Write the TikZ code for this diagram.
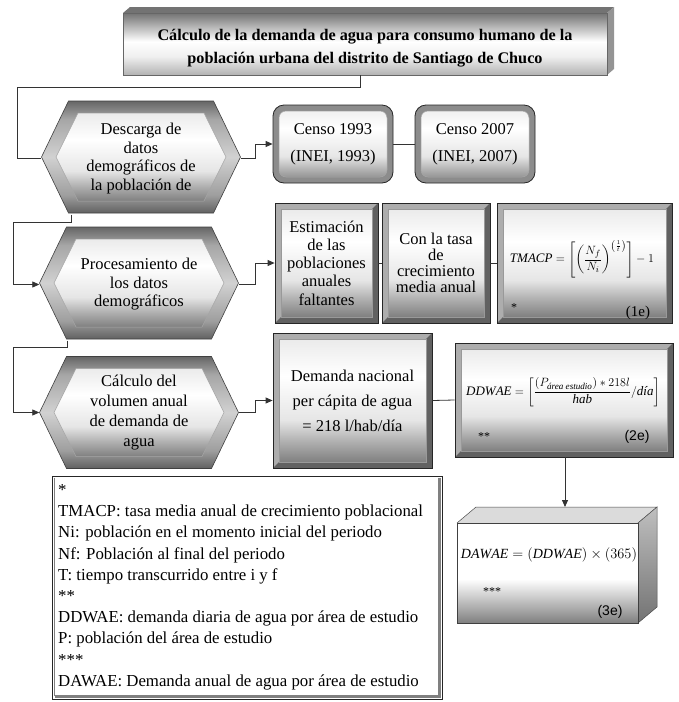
\documentclass[tikz,border=0pt]{standalone}
\usepackage{amsmath}
\usepackage{fontspec}
\setmainfont{Liberation Serif}
\newfontfamily\numsans{Liberation Sans}
\usetikzlibrary{arrows.meta,calc}

\pgfdeclareverticalshading{facesh}{100bp}{color(0bp)=(black!50); color(25bp)=(black!50); color(33bp)=(black!32); color(42bp)=(black!10); color(60bp)=(white); color(75bp)=(black!8); color(100bp)=(black!8)}
\pgfdeclareverticalshading{hexout}{100bp}{color(0bp)=(black!62); color(25bp)=(black!62); color(33bp)=(black!38); color(50bp)=(black!18); color(67bp)=(black!35); color(75bp)=(black!60); color(100bp)=(black!60)}
\pgfdeclareverticalshading{titlesh}{100bp}{color(0bp)=(black!30); color(25bp)=(black!30); color(40bp)=(black!6); color(52bp)=(white); color(75bp)=(black!55); color(100bp)=(black!55)}
\pgfdeclareverticalshading{cubesh}{100bp}{color(0bp)=(black!50); color(25bp)=(black!50); color(38bp)=(black!20); color(47bp)=(white); color(75bp)=(white); color(100bp)=(white)}

\newcommand\myfont{\fontsize{16.5}{18.5}\selectfont}
\newcommand\hexshape[2]{%
  \begin{scope}[shift={(#1,#2)}]
    \shade[shading=hexout, draw=black!75, line width=0.6pt]
      (-99.5,0) -- (-72.5,-56) -- (72.5,-56) -- (99.5,0) -- (72.5,56) -- (-72.5,56) -- cycle;
    \shade[shading=facesh, draw=black!35, line width=0.5pt]
      (-85,0) -- (-63,-44) -- (63,-44) -- (85,0) -- (63,44) -- (-63,44) -- cycle;
  \end{scope}}

\tikzset{
  hexnode/.style={minimum width=199pt, minimum height=112pt, inner sep=0pt, align=center, font=\myfont},
  framebox/.style={draw=black!85, line width=0.8pt, fill=black!32, inner sep=0pt, align=center, font=\myfont,
    path picture={
      \fill[black!62] (path picture bounding box.north east) -- (path picture bounding box.south east)
        -- (path picture bounding box.south west) -- ([shift={(6pt,6pt)}]path picture bounding box.south west)
        -- ([shift={(-6pt,6pt)}]path picture bounding box.south east) -- ([shift={(-6pt,-6pt)}]path picture bounding box.north east) -- cycle;
      \shade[shading=facesh, draw=black!40, line width=0.5pt]
        ([shift={(6pt,-6pt)}]path picture bounding box.north west) rectangle ([shift={(-6pt,6pt)}]path picture bounding box.south east);
    }},
  roundbox/.style={draw=black!85, line width=0.8pt, fill=black!45, rounded corners=11pt, inner sep=0pt, align=center,
    font=\fontsize{16.5}{27}\selectfont,
    path picture={
      \shade[shading=facesh, draw=black!35, line width=0.5pt, rounded corners=7pt]
        ([shift={(6pt,-6pt)}]path picture bounding box.north west) rectangle ([shift={(-6pt,6pt)}]path picture bounding box.south east);
    }},
  conn/.style={line width=0.8pt, black!80},
  arr/.style={conn, -{Triangle[length=7pt,width=6pt]}},
  smalltxt/.style={inner sep=0pt, font=\fontsize{12}{14}\selectfont},
  eqnum/.style={inner sep=0pt, font=\fontsize{15}{17}\selectfont},
  formula/.style={inner sep=0pt, font=\fontsize{13}{15}\selectfont},
  legtext/.style={inner sep=0pt, anchor=base west, font=\fontsize{16.8}{20}\selectfont}
}

\begin{document}
\begin{tikzpicture}[x=1pt,y=-1pt]
\useasboundingbox (0,0) rectangle (679,702);
\fill[white] (0,0) rectangle (679,702);

% ---- title (3D block)
\fill[black!55] (123,13) -- (130,7) -- (614,7) -- (607,13) -- cycle;
\fill[black!42] (607,13) -- (614,7) -- (614,69) -- (607,75) -- cycle;
\node[minimum width=484pt, minimum height=62pt, inner sep=0pt, shade, shading=titlesh, draw=black!60, line width=0.5pt] (title) at (365,44) {};
\node[inner sep=0pt, align=center, font=\fontsize{16.2}{23}\selectfont\bfseries] (titlet) at (365,48.5)
  {Cálculo de la demanda de agua para consumo humano de la\\población urbana del distrito de Santiago de Chuco};

% ---- hexagons
\hexshape{141}{157}
\hexshape{139}{283}
\hexshape{139}{412.5}
\node[hexnode] (h1) at (141,158.5) {Descarga de\\datos\\demográficos de\\la población de};
\node[hexnode] (h2) at (139,284.5) {Procesamiento de\\los datos\\demográficos};
\node[hexnode, font=\fontsize{16.5}{20}\selectfont] (h3) at (139,412.5) {Cálculo del\\volumen anual\\de demanda de\\agua};

% ---- row 1
\node[roundbox, minimum width=120pt, minimum height=78pt] (censoA) at (333,144) {Censo 1993\\(INEI, 1993)};
\node[roundbox, minimum width=120pt, minimum height=78pt] (censoB) at (475,144) {Censo 2007\\(INEI, 2007)};

% ---- row 2
\node[framebox, minimum width=103pt, minimum height=120pt, font=\fontsize{16.5}{18.3}\selectfont] (est) at (326.5,263) {Estimación\\de las\\poblaciones\\anuales\\faltantes};
\node[framebox, minimum width=108pt, minimum height=120pt, font=\fontsize{16.5}{16}\selectfont] (tasa) at (436,263) {Con la tasa\\de\\crecimiento\\media anual};
\node[framebox, minimum width=175pt, minimum height=120pt] (tmacp) at (584.5,263) {};
\node[formula] (f1) at (582,259) {$\mathit{TMACP}=\left[\left(\dfrac{N_f}{N_i}\right)^{\left(\frac{1}{t}\right)}\right]-1$};
\node[smalltxt] (s1) at (514,308) {*};
\node[eqnum] (n1) at (638,313) {(1e)};

% ---- row 3
\node[framebox, minimum width=159pt, minimum height=135pt, font=\fontsize{16.5}{25}\selectfont] (dem) at (352.5,400.5) {Demanda nacional\\per cápita de agua\\= 218 l/hab/día};
\node[framebox, minimum width=218pt, minimum height=114pt] (ddwae) at (564,400) {};
\node[formula] (f2) at (563,392) {$\mathit{DDWAE}=\left[\dfrac{(P_{\text{\itshape área estudio}})\ast 218l}{\mathit{hab}}/\text{\itshape día}\right]$};
\node[smalltxt] (s2) at (484,437) {**};
\node[eqnum, font=\fontsize{14}{16}\selectfont\numsans] (n2) at (637,437) {(2e)};

% ---- 3D block DAWAE
\fill[black!14] (457,523) -- (476,507) -- (657,507) -- (638,523) -- cycle;
\draw[black!70, line width=0.5pt] (457,523) -- (476,507) -- (657,507) -- (638,523);
\shade[top color=black!25, bottom color=black!55, draw=black!70, line width=0.5pt] (638,523) -- (657,507) -- (657,607) -- (638,623) -- cycle;
\node[minimum width=181pt, minimum height=100pt, inner sep=0pt, shade, shading=cubesh, draw=black!75, line width=0.6pt] (dawae) at (547.5,573) {};
\node[formula, font=\fontsize{14}{16}\selectfont] (f3) at (549,555) {$\mathit{DAWAE}=(\mathit{DDWAE})\times(365)$};
\node[smalltxt] (s3) at (492,592) {***};
\node[eqnum, font=\fontsize{14}{16}\selectfont\numsans] (n3) at (610,612) {(3e)};

% ---- legend
\node[draw=black!85, line width=0.6pt, fill=white, minimum width=390pt, minimum height=223pt, inner sep=0pt] (leg) at (247,587.5) {};
\draw[black!50, line width=2.5pt] ([shift={(-3pt,-2pt)}]leg.north east) -- ([shift={(-3pt,3pt)}]leg.south east) -- ([shift={(3pt,3pt)}]leg.south west);
\draw[black!50, line width=1pt] ([shift={(3pt,-2pt)}]leg.north west) -- ([shift={(3pt,3pt)}]leg.south west);
\foreach \t [count=\i] in {*,
  TMACP: tasa media anual de crecimiento poblacional,
  Ni: población en el momento inicial del periodo,
  Nf: Población al final del periodo,
  T: tiempo transcurrido entre i y f,
  **,
  DDWAE: demanda diaria de agua por área de estudio,
  P: población del área de estudio,
  ***,
  DAWAE: Demanda anual de agua por área de estudio}
  \node[legtext] (lg\i) at (58,{474.3+21.2*\i}) {\t};

% ---- connectors
\coordinate (t1) at (17,87);
\coordinate (l1) at (13,222);
\coordinate (l2) at (13,347);
\coordinate (e1) at (255,0);
\draw[conn] ($(title.south)+(-5pt,0)$) |- (t1) |- (h1.west);
\draw[arr] ($(h1.south west)+(30pt,0)$) |- (l1) |- (h2.west);
\draw[arr] ($(h2.south west)+(28pt,0)$) |- (l2) |- (h3.west);
\draw[arr] (h1.east) -- (h1.east -| e1) |- (censoA.west);
\draw[arr] (h2.east) -- (h2.east -| e1) |- (est.west);
\draw[arr] (h3.east) -- (h3.east -| e1) |- (dem.west);
\draw[conn] (censoA.east) -- (censoB.west);
\draw[conn] (est.east) -- (tasa.west);
\draw[conn] (tasa.east) -- (tmacp.west);
\draw[conn] (dem.east) -- (ddwae.west);
\coordinate (dtop) at (565,507);
\draw[arr] (ddwae.south -| dtop) -- (dtop);
\end{tikzpicture}
\end{document}
